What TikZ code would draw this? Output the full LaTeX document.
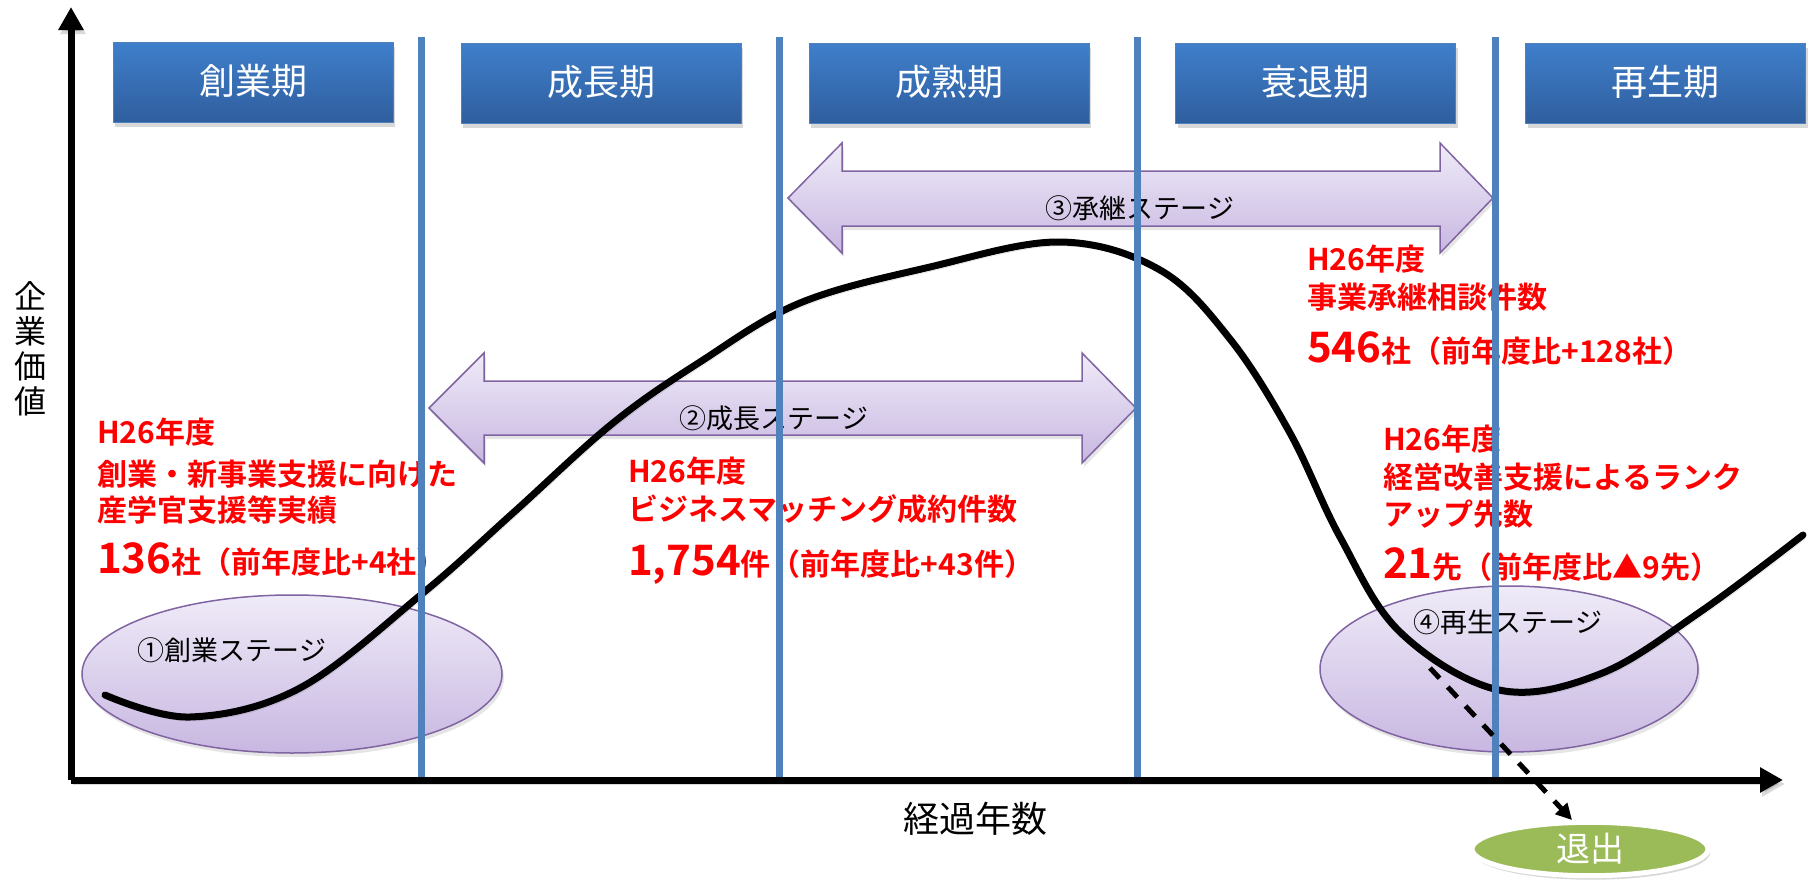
\documentclass[tikz,border=0pt]{standalone}
\usepackage{fontspec}
\newfontfamily\jp{Noto Sans CJK JP}
\newfontfamily\jpb{Noto Sans CJK JP Bold}
\usetikzlibrary{shapes.geometric,arrows.meta,shadows}
\definecolor{hdtop}{HTML}{3F7FCB}
\definecolor{hdbot}{HTML}{2F5E9E}
\definecolor{vline}{HTML}{4F81BD}
\definecolor{lavtop}{HTML}{EFEBF8}
\definecolor{lavbot}{HTML}{C8B7E1}
\definecolor{lavdraw}{HTML}{8064A2}
\definecolor{exitg}{HTML}{9BBB59}
\definecolor{redtxt}{HTML}{FF0000}
\begin{document}
\begin{tikzpicture}[x=1pt,y=-1pt,
  hdr/.style={rectangle, minimum width=280, minimum height=80, top color=hdtop, bottom color=hdbot,
    draw=vline, line width=1, text=white, font=\jp\fontsize{36}{40}\selectfont,
    drop shadow={opacity=0.3, shadow xshift=2pt, shadow yshift=-5pt}},
  lineshadow/.style={preaction={draw=black, opacity=0.15, transform canvas={xshift=2pt, yshift=-4pt}}},
  vsep/.style={draw=vline, line width=7, lineshadow},
  stagearrow/.style={top color=lavtop, bottom color=lavbot, draw=lavdraw, line width=1.5,
    drop shadow={opacity=0.2, shadow xshift=2pt, shadow yshift=-4pt}},
  stageell/.style={ellipse, top color=lavtop, bottom color=lavbot, draw=lavdraw, line width=1.5,
    drop shadow={opacity=0.2, shadow xshift=2pt, shadow yshift=-4pt}},
  stagetxt/.style={font=\jp\fontsize{27}{30}\selectfont, inner sep=0},
  redt/.style={anchor=base west, inner sep=0, text=redtxt, font=\jpb\fontsize{30}{34}\selectfont},
  curve/.style={line width=7, line cap=round, line join=round, lineshadow},
  axis/.style={line width=7, -{Triangle[length=23pt,width=24pt]}, lineshadow},
  exitell/.style={ellipse, minimum width=236, minimum height=50, fill=exitg, draw=white, line width=5,
    text=white, font=\jp\fontsize{34}{38}\selectfont,
    drop shadow={opacity=0.3, shadow xshift=2pt, shadow yshift=-4pt}},
  dasharrow/.style={line width=5, dash pattern=on 14pt off 12pt, -{Triangle[length=16pt,width=16pt]}}
]
\useasboundingbox (0,0) rectangle (1816,886);
\fill[white] (0,0) rectangle (1816,886);

% header boxes
\node[hdr] (b1) at (253,82) {\raisebox{5pt}{創業期}};
\node[hdr] (b2) at (601,83) {\raisebox{5pt}{成長期}};
\node[hdr] (b3) at (949,83) {\raisebox{5pt}{成熟期}};
\node[hdr] (b4) at (1315.5,83) {\raisebox{5pt}{衰退期}};
\node[hdr] (b5) at (1665.5,83) {\raisebox{5pt}{再生期}};

% stage arrows
\draw[stagearrow] (788,198) -- (842,143) -- (842,171) -- (1440,171) -- (1440,143) -- (1493,198)
  -- (1440,253) -- (1440,226) -- (842,226) -- (842,253) -- cycle;
\draw[stagearrow] (429,408) -- (484,353) -- (484,381) -- (1082,381) -- (1082,353) -- (1136,408)
  -- (1082,463) -- (1082,435) -- (484,435) -- (484,463) -- cycle;

% stage ellipses
\node[stageell, minimum width=420, minimum height=158] (e1) at (292,674) {};
\node[stageell, minimum width=378, minimum height=166] (e4) at (1509,669) {};

% stage labels
\node[stagetxt] (s1) at (232,650) {①創業ステージ};
\node[stagetxt] (s2) at (774,418) {②成長ステージ};
\node[stagetxt] (s3) at (1140,208) {③承継ステージ};
\node[stagetxt] (s4) at (1508,622) {④再生ステージ};

% red texts
\node[redt] (r1a) at (97,443) {H26年度};
\node[redt] (r1b) at (97,485) {創業・新事業支援に向けた};
\node[redt] (r1c) at (97,521) {産学官支援等実績};
\node[redt] (r1d) at (97,573) {{\fontsize{42}{46}\selectfont 136}社（前年度比+4社）};

\node[redt] (r2a) at (628,482) {H26年度};
\node[redt] (r2b) at (628,520) {ビジネスマッチング成約件数};
\node[redt] (r2c) at (628,575) {{\fontsize{42}{46}\selectfont 1,754}件（前年度比+43件）};

\node[redt] (r3a) at (1307,270) {H26年度};
\node[redt] (r3b) at (1307,308) {事業承継相談件数};
\node[redt] (r3c) at (1307,362) {{\fontsize{42}{46}\selectfont 546}社（前年度比+128社）};

\node[redt] (r4a) at (1383,450) {H26年度};
\node[redt] (r4b) at (1383,488) {経営改善支援によるランク};
\node[redt] (r4c) at (1383,525) {アップ先数};
\node[redt] (r4d) at (1383,578) {{\fontsize{42}{46}\selectfont 21}先（前年度比▲9先）};

% value curve
\draw[curve] plot[smooth, tension=0.6] coordinates {
  (105,695) (190,717) (300,688) (423,593) (513,513) (613,423) (700,362) (800,303)
  (930,267) (1060,242) (1160,270) (1230,339) (1290,433) (1340,537) (1400,632)
  (1499,690) (1600,674) (1700,612) (1803,535)};

% vertical separators
\coordinate (v1t) at (421.5,37); \coordinate (v1b) at (421.5,780);
\coordinate (v2t) at (779,37);   \coordinate (v2b) at (779,780);
\coordinate (v3t) at (1137,37);  \coordinate (v3b) at (1137,780);
\coordinate (v4t) at (1495,37);  \coordinate (v4b) at (1495,780);
\draw[vsep] (v1t) -- (v1b);
\draw[vsep] (v2t) -- (v2b);
\draw[vsep] (v3t) -- (v3b);
\draw[vsep] (v4t) -- (v4b);

% exit
\node[exitell] (ex) at (1590,849) {退出};
\coordinate (dstart) at (1430,668);
\coordinate (dend) at (1572,820);
\draw[dasharrow] (dstart) -- (dend);

% axes
\coordinate (O) at (71,780);
\coordinate (ytip) at (71,7);
\coordinate (xtip) at (1783,780);
\draw[axis] (O) -- (ytip);
\draw[axis] (O) -- (xtip);

\node[font=\jp\fontsize{32}{35}\selectfont, align=center, inner sep=0] (ylab) at (30,349) {企\\業\\価\\値};
\node[font=\jp\fontsize{36}{40}\selectfont, inner sep=0] (xlab) at (975,819) {経過年数};
\end{tikzpicture}
\end{document}
